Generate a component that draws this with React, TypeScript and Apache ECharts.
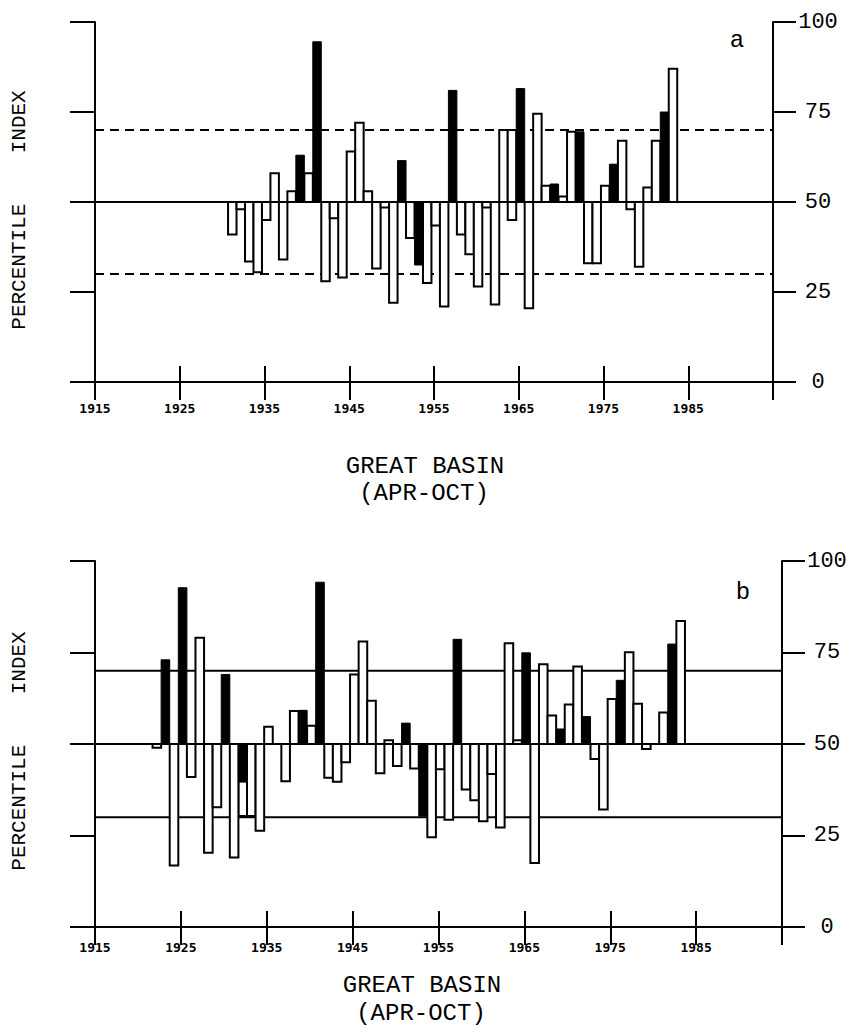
import React, { useEffect, useRef } from "react";
import * as echarts from "echarts";

// ---------- data ----------
const yearsA = [
  1931, 1932, 1933, 1934, 1935, 1936, 1937, 1938, 1939, 1940,
  1941, 1942, 1943, 1944, 1945, 1946, 1947, 1948, 1949, 1950,
  1951, 1952, 1953, 1954, 1955, 1956, 1957, 1958, 1959, 1960,
  1961, 1962, 1963, 1964, 1965, 1966, 1967, 1968, 1969, 1970,
  1971, 1972, 1973, 1974, 1975, 1976, 1977, 1978, 1979, 1980,
  1981, 1982, 1983,
];
const valuesA = [
  41, 48, 33.5, 30.5, 45, 58, 34, 53, 63, 58,
  94.5, 28, 45.5, 29, 64, 72, 53, 31.5, 48.5, 22,
  61.5, 40, 32.5, 27.5, 43.5, 21, 81, 41, 35.5, 26.5,
  48.5, 21.5, 70, 70, 81.5, 20.5, 74.5, 54.5, 55, 51.5,
  69.5, 69.5, 33, 33, 54.5, 60.5, 67, 48, 32, 54,
  67, 75, 87,
];
const filledA = [1939, 1941, 1951, 1953, 1957, 1965, 1969, 1972, 1976, 1982];
const extraYearsA = [1964];
const extraValuesA = [45];

const yearsB = [
  1922, 1923, 1924, 1925, 1926, 1927, 1928, 1929, 1930,
  1931, 1932, 1933, 1934, 1935, 1936, 1937, 1938, 1939, 1940,
  1941, 1942, 1943, 1944, 1945, 1946, 1947, 1948, 1949, 1950,
  1951, 1952, 1953, 1954, 1955, 1956, 1957, 1958, 1959, 1960,
  1961, 1962, 1963, 1964, 1965, 1966, 1967, 1968, 1969, 1970,
  1971, 1972, 1973, 1974, 1975, 1976, 1977, 1978, 1979, 1980,
  1981, 1982, 1983,
];
const valuesB = [
  49, 73, 16.8, 92.7, 41, 79, 20.3, 32.7, 69,
  19, 39.6, 30.3, 26.3, 54.7, null, 39.8, 59, 59.2, 55,
  94.2, 40.8, 39.7, 45, 69, 78, 61.8, 42, 51, 44,
  55.7, 43.3, 30.3, 24.5, 43.1, 29.3, 78.6, 37.6, 34.6, 28.9,
  41.8, 27.2, 77.5, 51, 74.9, 17.5, 71.8, 57.8, 54.1, 60.8,
  71.2, 57.5, 45.9, 32.1, 62.3, 67.4, 75.1, 61, 48.6, null,
  58.6, 77.3, 83.6,
];
const filledB = [1923, 1925, 1930, 1932, 1939, 1941, 1951, 1953, 1957, 1965, 1969, 1972, 1976, 1982];
const extraYearsB = [1932];
const extraValuesB = [30.3];

const xTickLabels = ["1915", "1925", "1935", "1945", "1955", "1965", "1975", "1985"];
const yTickLabels = ["0", "25", "50", "75", "100"];
const baseline = 50;
const refLines = [30, 70];

// ---------- helpers ----------
const BAR_LEFT = 0.3;
const BAR_RIGHT = 0.7;

function barItem(params: any, api: any) {
  const yr = api.value(0);
  const v = api.value(1);
  const filled = api.value(2);
  if (v == null || isNaN(v)) return null;
  const p0 = api.coord([yr - BAR_LEFT, baseline]);
  const p1 = api.coord([yr + BAR_RIGHT, v]);
  return {
    type: "rect",
    shape: {
      x: p0[0],
      y: Math.min(p0[1], p1[1]),
      width: p1[0] - p0[0],
      height: Math.abs(p1[1] - p0[1]),
    },
    style: {
      fill: filled ? "#000" : "#fff",
      stroke: "#000",
      lineWidth: filled ? 1 : 2,
    },
  };
}

function lineItemFactory(dashed: boolean) {
  return (params: any, api: any) => {
    const v = api.value(0);
    const cs = params.coordSys;
    const p = api.coord([1915, v]);
    return {
      type: "line",
      shape: { x1: cs.x, y1: p[1], x2: cs.x + cs.width, y2: p[1] },
      style: {
        stroke: "#000",
        lineWidth: 2,
        lineDash: dashed && v !== baseline ? [9, 6] : null,
      },
    };
  };
}

function panelSeries(
  idx: number,
  years: number[],
  values: (number | null)[],
  filled: number[],
  extraYears: number[],
  extraValues: number[],
  dashed: boolean
) {
  const main = years
    .map((y, i) => [y, values[i], filled.includes(y) ? 1 : 0])
    .filter((d) => d[1] != null);
  const extra = extraYears.map((y, i) => [y, extraValues[i], 0]);
  return [
    {
      type: "custom",
      xAxisIndex: idx * 2,
      yAxisIndex: idx * 2,
      renderItem: lineItemFactory(dashed),
      data: [...refLines, baseline].map((v) => [v]),
      encode: { y: 0 },
      silent: true,
      z: 1,
    },
    {
      type: "custom",
      xAxisIndex: idx * 2,
      yAxisIndex: idx * 2,
      renderItem: barItem,
      data: extra,
      encode: { x: 0, y: 1 },
      z: 2,
    },
    {
      type: "custom",
      xAxisIndex: idx * 2,
      yAxisIndex: idx * 2,
      renderItem: barItem,
      data: main,
      encode: { x: 0, y: 1 },
      z: 3,
    },
  ];
}

const axisLineStyle = { color: "#000", width: 2 };

function xAxes(gridIndex: number, labelMargin: number) {
  return [
    {
      gridIndex,
      type: "value",
      position: "bottom",
      min: 1915,
      max: 1995,
      interval: 10,
      axisLine: { show: true, lineStyle: axisLineStyle },
      axisTick: { show: true, inside: true, length: 16, lineStyle: axisLineStyle },
      splitLine: { show: false },
      axisLabel: {
        show: true,
        margin: labelMargin,
        showMaxLabel: false,
        color: "#000",
        fontFamily: "DejaVu Sans Mono",
        fontWeight: "bold",
        fontSize: 13,
        formatter: (v: number) => {
          const s = String(v);
          return xTickLabels.includes(s) ? s : "";
        },
      },
    },
    {
      gridIndex,
      type: "value",
      position: "top",
      min: 1915,
      max: 1995,
      interval: 10,
      axisLine: { show: true, lineStyle: axisLineStyle },
      axisTick: { show: true, inside: true, length: 18, lineStyle: axisLineStyle },
      splitLine: { show: false },
      axisLabel: { show: false },
    },
  ];
}

function yAxes(gridIndex: number) {
  return [
    {
      gridIndex,
      type: "value",
      position: "left",
      min: 0,
      max: 100,
      interval: 25,
      axisLine: { show: true, lineStyle: axisLineStyle },
      axisTick: { show: true, inside: false, length: 25, lineStyle: axisLineStyle },
      splitLine: { show: false },
      axisLabel: { show: false },
    },
    {
      gridIndex,
      type: "value",
      position: "right",
      min: 0,
      max: 100,
      interval: 25,
      axisLine: { show: true, lineStyle: axisLineStyle },
      axisTick: { show: true, inside: false, length: 23, lineStyle: axisLineStyle },
      splitLine: { show: false },
      axisLabel: {
        show: true,
        margin: 45,
        align: "center",
        color: "#000",
        fontFamily: "Liberation Mono",
        fontSize: 22,
        formatter: (v: number) => {
          const s = String(v);
          return yTickLabels.includes(s) ? s : "";
        },
      },
    },
  ];
}

function txt(
  text: string,
  x: number,
  y: number,
  font: string,
  rotation = 0
) {
  return {
    type: "text",
    x,
    y,
    rotation,
    silent: true,
    style: {
      text,
      font,
      fill: "#000",
      align: "center",
      verticalAlign: "middle",
      textAlign: "center",
      textVerticalAlign: "middle",
    },
  };
}

export default function App() {
  const ref = useRef<HTMLDivElement>(null);
  useEffect(() => {
    if (!ref.current) return;
    const chart = echarts.init(ref.current, null, { renderer: "svg" });
    const titleFont = "24px 'Liberation Mono'";
    const yTitleFont = "21px 'Liberation Mono'";
    chart.setOption({
      animation: false,
      backgroundColor: "#fff",
      grid: [
        { left: 95, top: 22, width: 678, height: 360 },
        { left: 95, top: 561, width: 687, height: 366 },
      ],
      xAxis: [...xAxes(0, 20), ...xAxes(1, 14)],
      yAxis: [...yAxes(0), ...yAxes(1)],
      series: [
        ...panelSeries(0, yearsA, valuesA, filledA, extraYearsA, extraValuesA, true),
        ...panelSeries(1, yearsB, valuesB, filledB, extraYearsB, extraValuesB, false),
      ],
      graphic: [
        txt("a", 737, 40, titleFont),
        txt("b", 743, 592, titleFont),
        txt("PERCENTILE    INDEX", 19, 210, yTitleFont, Math.PI / 2),
        txt("PERCENTILE    INDEX", 19, 751, yTitleFont, Math.PI / 2),
        txt("GREAT BASIN", 425, 466, titleFont),
        txt("(APR-OCT)", 424, 493, titleFont),
        txt("GREAT BASIN", 422, 985, titleFont),
        txt("(APR-OCT)", 421, 1013, titleFont),
      ],
    });
    return () => chart.dispose();
  }, []);
  return (
    <div
      ref={ref}
      style={{
        position: "absolute",
        left: 0,
        top: 0,
        width: 865,
        height: 1035,
        background: "#fff",
      }}
    />
  );
}
